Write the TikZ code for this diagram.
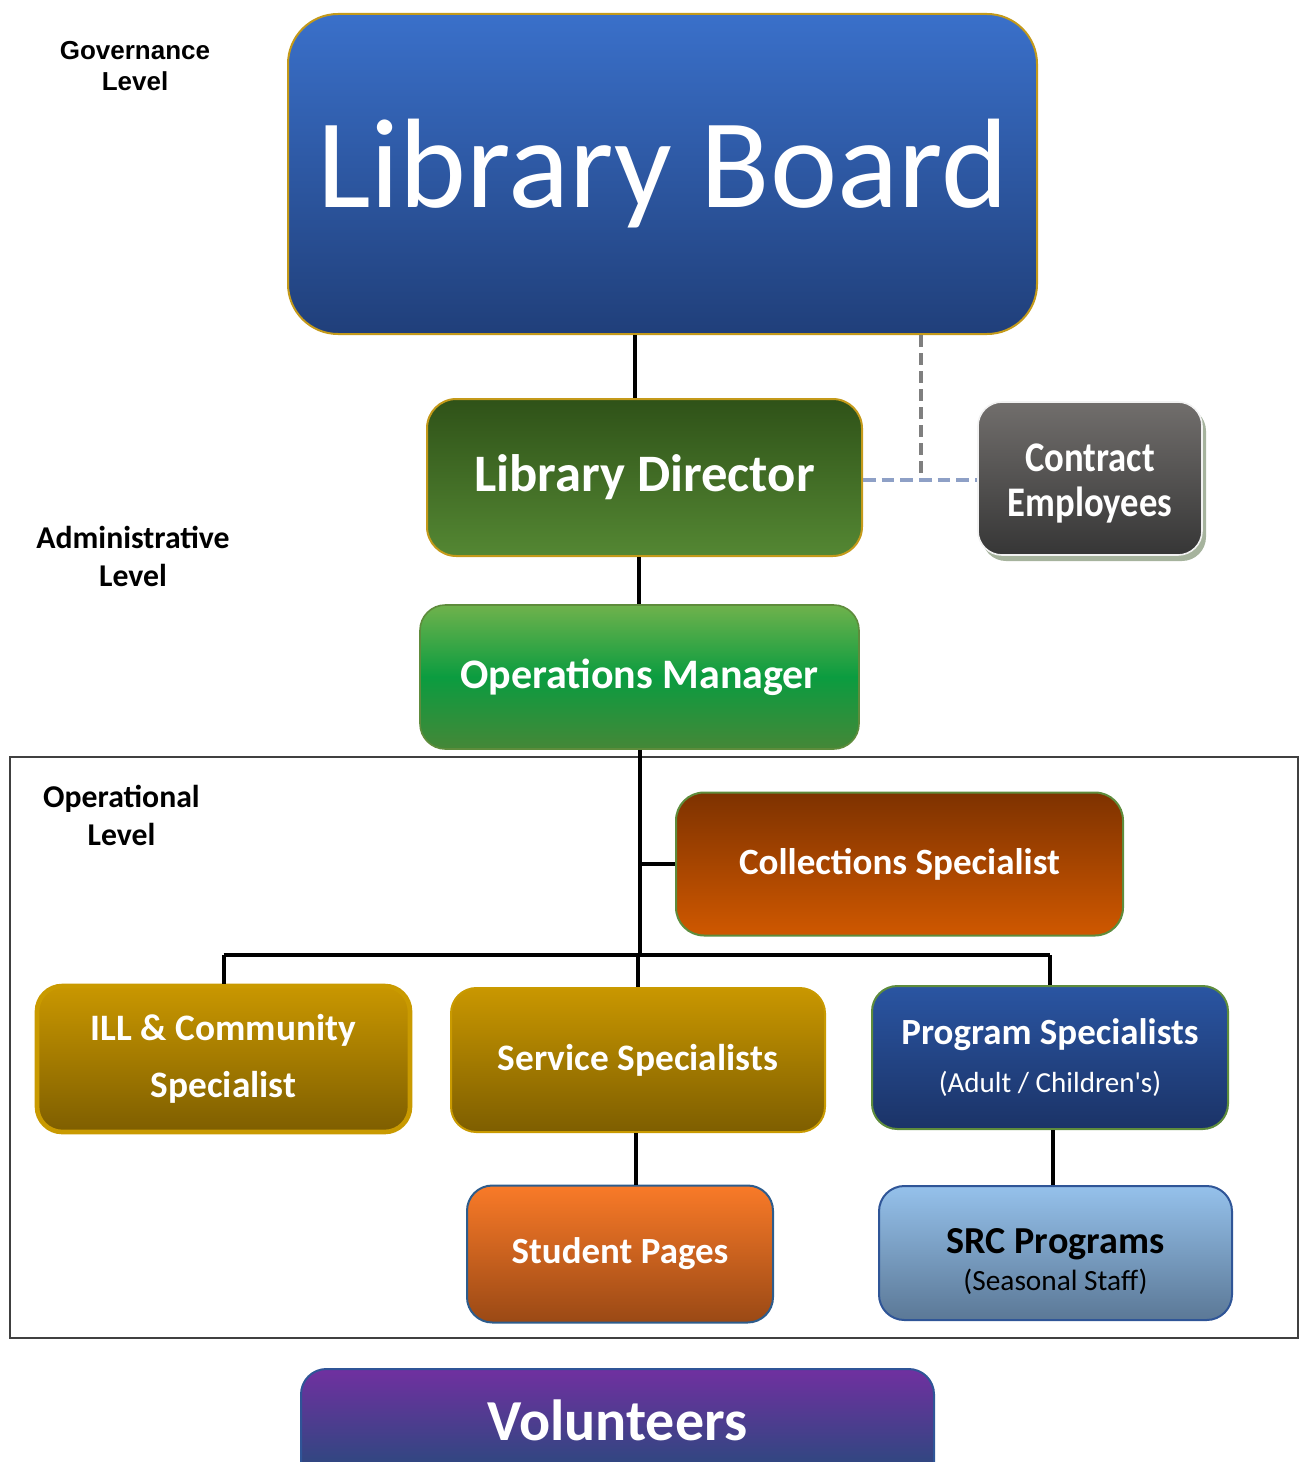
\documentclass[tikz,border=0pt]{standalone}
\usepackage{fontspec}
\usepackage{graphicx}
\setmainfont{Carlito}
\newfontfamily\arialfont{Liberation Sans}
\newcommand\fs[2]{\fontsize{#1}{#2}\selectfont}
\newcommand\straightq{\XeTeXglyph\XeTeXcharglyph"27\relax}
\definecolor{bTop}{HTML}{3A70CA}
\definecolor{bBot}{HTML}{203F7A}
\definecolor{goldB}{HTML}{C49A1A}
\definecolor{dTop}{HTML}{2F5218}
\definecolor{dBot}{HTML}{548733}
\definecolor{cTop}{HTML}{716E6C}
\definecolor{cBot}{HTML}{363636}
\definecolor{cShadow}{HTML}{A6B39D}
\definecolor{oTop}{HTML}{6FB24C}
\definecolor{oMid}{HTML}{0B9C40}
\definecolor{oBot}{HTML}{458737}
\definecolor{greenB}{HTML}{5E8C3C}
\definecolor{colTop}{HTML}{7E3200}
\definecolor{colBot}{HTML}{CF5800}
\definecolor{gTop}{HTML}{C99700}
\definecolor{gBot}{HTML}{7E5E00}
\definecolor{gBorder}{HTML}{C99A00}
\definecolor{pTop}{HTML}{2A55A2}
\definecolor{pBot}{HTML}{1B3367}
\definecolor{sTop}{HTML}{F97A28}
\definecolor{sBot}{HTML}{9A4915}
\definecolor{sBorder}{HTML}{2D5C8C}
\definecolor{rTop}{HTML}{95C1EB}
\definecolor{rBot}{HTML}{5B7896}
\definecolor{rBorder}{HTML}{2F5597}
\definecolor{vTop}{HTML}{7030A0}
\definecolor{vBot}{HTML}{1F4D78}
\definecolor{dashGray}{HTML}{7F7F7F}
\definecolor{dashBlue}{HTML}{8EA0C6}
\begin{document}
\begin{tikzpicture}[x=0.75pt,y=-0.75pt,
  box/.style={draw, rounded corners=#1, align=center, text=white, inner sep=0pt},
  sz/.style 2 args={minimum width=#1*0.75pt, minimum height=#2*0.75pt},
  conn/.style={line width=3pt, black},
  lvl/.style={align=center, font=\fs{23.8}{28.5}\bfseries},
]
\useasboundingbox (0,0) rectangle (1299,1462);
\clip (0,0) rectangle (1299,1462);

% level labels
\node[align=center, font=\arialfont\fs{19.5}{23.25}\bfseries] (gov) at (135,66) {Governance\\Level};
\node[lvl] (adm) at (133,556) {Administrative\\Level};
\node[lvl] (opl) at (121.5,815) {Operational\\Level};

% operational frame
\draw[line width=1pt, draw={rgb,255:red,64;green,64;blue,64}] (10,757) rectangle (1298,1338);

% boxes
\node[box=37.5pt, sz={749}{320}, top color=bTop, bottom color=bBot, draw=goldB, line width=1.5pt,
  font=\fs{95.5}{116}] (board) at (662.5,174) {Library Board};
\node[box=22pt, sz={435}{157}, top color=dTop, bottom color=dBot, draw=goldB, line width=1.5pt,
  font=\fs{39.5}{47}\bfseries] (director) at (644.5,477.5) {Library Director};
\fill[cShadow, rounded corners=18pt] (982,407) rectangle (1206,561);
\node[box=18pt, sz={224}{153}, top color=cTop, bottom color=cBot, draw=white!90!gray, line width=1.2pt,
  font=\fs{27.5}{34}\bfseries] (contract) at (1090,478.5)
  {\rule{0pt}{28pt}\scalebox{1}[1.15]{Contract}\\\scalebox{1}[1.15]{Employees}};
\node[box=19pt, sz={439}{144}, top color=oTop, bottom color=oBot, middle color=oMid, draw=greenB, line width=1.2pt,
  font=\fs{31.5}{38}\bfseries] (ops) at (639.5,677) {Operations Manager};
\node[box=21pt, sz={447}{143}, top color=colTop, bottom color=colBot, draw=greenB, line width=1.5pt,
  font=\fs{27.8}{33}\bfseries] (coll) at (899.5,864) {Collections Specialist};
\node[box=19pt, sz={373}{146}, top color=gTop, bottom color=gBot, draw=gBorder, line width=3.5pt,
  font=\fs{28}{42.75}\bfseries] (ill) at (223.5,1059) {ILL \& Community\\Specialist};
\node[box=19pt, sz={374}{144}, top color=gTop, bottom color=gBot, draw=gBorder, line width=1.5pt,
  font=\fs{28}{33}\bfseries] (serv) at (638,1060) {Service Specialists};
\node[box=19pt, sz={356}{143}, top color=pTop, bottom color=pBot, draw=greenB, line width=1.5pt,
  font=\fs{27.7}{36}\bfseries] (prog) at (1050,1057.5) {Program Specialists\\{\fs{21.8}{36}\mdseries(Adult / Children\straightq s)}};
\node[box=19pt, sz={306}{137}, top color=sTop, bottom color=sBot, draw=sBorder, line width=1.5pt,
  font=\fs{27.7}{33}\bfseries] (stud) at (620,1254) {Student Pages};
\node[box=19pt, sz={353}{134}, top color=rTop, bottom color=rBot, draw=rBorder, line width=1.5pt,
  text=black, font=\fs{28.6}{28}\bfseries] (src) at (1055.5,1253) {\rule{0pt}{32pt}SRC Programs\\{\fs{22}{28}\mdseries(Seasonal Staff)}};
\node[box=19pt, sz={633}{121}, top color=vTop, bottom color=vBot, draw=rBorder, line width=1.5pt,
  text height=30pt, text depth=14.25pt, font=\fs{43.5}{50}\bfseries] (vol) at (617.5,1429.5) {Volunteers};

% connectors
\coordinate (c1) at (635,0);
\coordinate (c2) at (638.5,0);
\coordinate (c3) at (636,0);
\coordinate (c4) at (1053,0);
\coordinate (bus) at (639.5,955);
\coordinate (dj) at (921,480);
\draw[conn] (c1 |- board.south) -- (c1 |- director.north);
\draw[conn] (c2 |- director.south) -- (c2 |- ops.north);
\draw[conn] (ops.south) -- (bus);
\draw[conn] (ops.south |- coll.west) -- (coll.west);
\draw[conn] (ill.north |- bus) -- (prog.north |- bus);
\draw[conn] (ill.north |- bus) -- (ill.north);
\draw[conn] (serv.north |- bus) -- (serv.north);
\draw[conn] (prog.north |- bus) -- (prog.north);
\draw[conn] (c3 |- serv.south) -- (c3 |- stud.north);
\draw[conn] (c4 |- prog.south) -- (c4 |- src.north);
\draw[line width=2.5pt, dashGray, dash pattern=on 9pt off 4.5pt] (board.south -| dj) -- (dj);
\draw[line width=3pt, dashBlue, dash pattern=on 9.5pt off 4.5pt] (director.east |- dj) -- (contract.west |- dj);
\end{tikzpicture}
\end{document}
